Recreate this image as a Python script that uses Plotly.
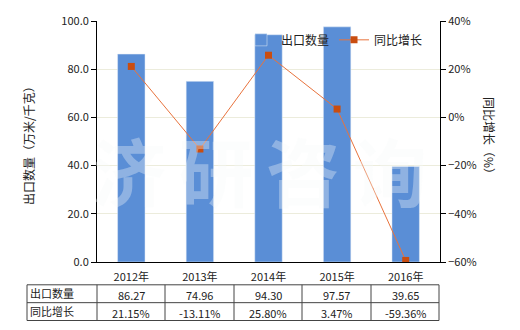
import plotly.graph_objects as go

years = ["2012年", "2013年", "2014年", "2015年", "2016年"]
export_qty = [86.27, 74.96, 94.30, 97.57, 39.65]
yoy_growth = [21.15, -13.11, 25.80, 3.47, -59.36]
qty_labels = ["86.27", "74.96", "94.30", "97.57", "39.65"]
growth_labels = ["21.15%", "-13.11%", "25.80%", "3.47%", "-59.36%"]
row_names = ["出口数量", "同比增长"]
watermark_chars = ["济", "研", "咨", "询"]

W, H = 520, 330
L, R, T, B = 97, 440, 19, 262
pw, ph = R - L, B - T

def px(x):
    return (x - L) / pw

def py(y):
    return (B - y) / ph

FONT = "Noto Sans CJK SC"
fig = go.Figure()
fig.add_trace(go.Bar(x=years, y=export_qty, name="出口数量", marker_color="#5A8ED6",
                     width=0.4, yaxis="y"))
fig.add_trace(go.Scatter(x=years, y=yoy_growth, name="同比增长", mode="lines+markers",
                         line=dict(color="#E8733D", width=1),
                         marker=dict(symbol="square", size=7, color="#C94D10"),
                         yaxis="y2"))

shapes = []
annotations = []

def ann(x, y, text, size=11, angle=0, xanchor="center", color="#222222"):
    annotations.append(dict(x=px(x), y=py(y), xref="paper", yref="paper", text=text,
                            showarrow=False, xanchor=xanchor, yanchor="middle",
                            textangle=angle,
                            font=dict(family=FONT, size=size, color=color)))

# watermark
for i, ch in enumerate(watermark_chars):
    ann(129 + i * 87, 168, "<b>" + ch + "</b>", size=74, color="rgba(246,250,250,0.34)")

# table
tl, tr = 27, 439
rows_y = [285, 303, 321]
cols_x = [27, 97, 165, 234, 302, 371, 439]
for yy in rows_y:
    shapes.append(dict(type="line", xref="paper", yref="paper", x0=px(tl), x1=px(tr),
                       y0=py(yy), y1=py(yy), line=dict(color="#444444", width=1)))
for xx in cols_x:
    shapes.append(dict(type="line", xref="paper", yref="paper", x0=px(xx), x1=px(xx),
                       y0=py(rows_y[0]), y1=py(rows_y[-1]), line=dict(color="#444444", width=1)))
for r, (name, labels) in enumerate(zip(row_names, [qty_labels, growth_labels])):
    yc = (rows_y[r] + rows_y[r + 1]) / 2
    ann(28, yc - 1, name, xanchor="left")
    for c, lab in enumerate(labels):
        xc = (cols_x[c + 1] + cols_x[c + 2]) / 2
        ann(xc, yc + 1, lab)

# axis titles
ann(29, 142, "出口数量（万米/千克）", size=12, angle=-90)
ann(490, 137, "同比增长（%）", size=12, angle=90)

fig.update_layout(
    width=W, height=H,
    margin=dict(l=L, r=W - R, t=T, b=H - B),
    paper_bgcolor="white", plot_bgcolor="white",
    font=dict(family=FONT, size=11, color="#222222"),
    showlegend=True,
    legend=dict(orientation="h", x=px(241), y=py(38), xanchor="left", yanchor="middle",
                bgcolor="rgba(0,0,0,0)", font=dict(family=FONT, size=12, color="#222222"),
                itemwidth=30),
    xaxis=dict(type="category", range=[-0.5, 4.5], showline=True, linecolor="black",
               ticks="", tickfont=dict(size=11), showgrid=False, ticklabelstandoff=5),
    yaxis=dict(range=[0, 100], dtick=20, tickformat=".1f", showline=True, linecolor="black",
               ticks="outside", ticklen=5, tickcolor="black", showgrid=True,
               gridcolor="#ECECDC", gridwidth=1, zeroline=False, tickfont=dict(size=11)),
    yaxis2=dict(range=[-60, 40], dtick=20, ticksuffix="%", overlaying="y", side="right",
                showline=True, linecolor="black", ticks="outside", ticklen=5, tickcolor="black",
                showgrid=False, zeroline=False, tickfont=dict(size=11)),
    shapes=shapes,
    annotations=annotations,
)
fig.write_html("out.html")
